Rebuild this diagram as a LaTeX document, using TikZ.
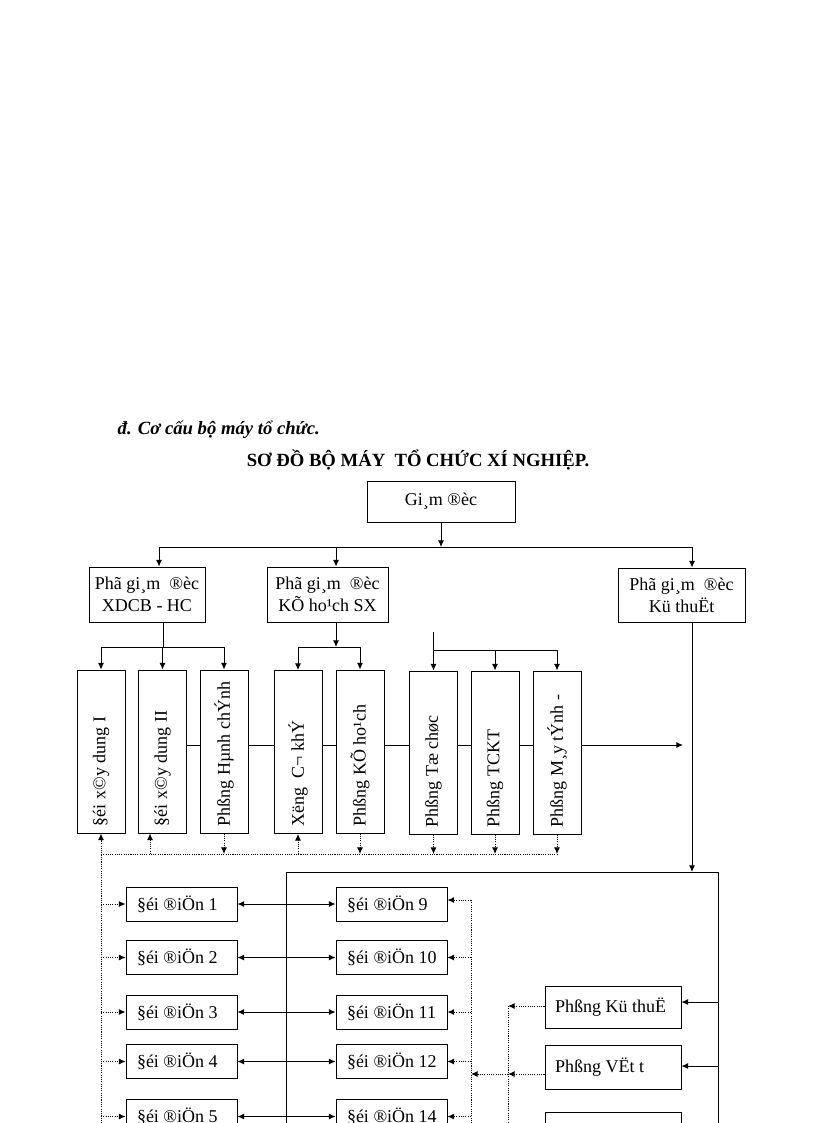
\documentclass[tikz,border=0pt]{standalone}
\usepackage{fontspec}
\setmainfont{Liberation Serif}
\usetikzlibrary{arrows.meta}
\begin{document}
\begin{tikzpicture}[x=0.75pt,y=-0.75pt,
  every node/.style={font=\fontsize{13.5}{16.5}\selectfont},
  box/.style={draw, fill=white, line width=0.7pt, inner sep=0pt},
  tall/.style={box, minimum width=36pt, minimum height=122.25pt},
  doi/.style={box, minimum width=83.25pt, minimum height=25.5pt},
  phong/.style={box, minimum width=102pt, minimum height=31.5pt},
  ln/.style={line width=0.7pt},
  arr/.style={ln, -{Latex[length=5pt,width=4.5pt]}},
  darr/.style={ln, {Latex[length=5pt,width=4.5pt]}-{Latex[length=5pt,width=4.5pt]}},
  dot/.style={line width=0.7pt, dash pattern=on 0.8pt off 0.9pt}
]
\newcommand{\vt}[1]{\rotatebox{90}{\makebox[111.75pt][l]{#1}}}
\newcommand{\lt}[1]{\makebox[66.75pt][l]{#1}}
\newcommand{\pt}[1]{\makebox[87pt][l]{#1}}
\useasboundingbox (0,0) rectangle (816,1123);

% headings
\node[anchor=base west, font=\fontsize{14}{17}\selectfont\bfseries\itshape] (h1) at (113,434) {đ. Cơ cấu bộ máy tổ chức.};
\node[anchor=base, font=\fontsize{14}{17}\selectfont\bfseries] (h2) at (418,466) {SƠ ĐỒ BỘ MÁY\ \ TỔ CHỨC XÍ NGHIỆP.};

% top boxes
\node[box, minimum width=111pt, minimum height=30.75pt] (gd) at (441,501.5) {Gi¸m ®èc};
\node[box, minimum width=87pt, minimum height=41.25pt, align=center] (pxd) at (147,594.5) {Phã gi¸m\ \ ®èc\\XDCB - HC};
\node[box, minimum width=90.75pt, minimum height=41.25pt, align=center] (pkh) at (327.5,594.5) {Phã gi¸m\ \ ®èc\\KÕ ho¹ch SX};
\node[box, minimum width=95.25pt, minimum height=40.5pt, align=center] (pkt) at (681.5,595) {Phã gi¸m\ \ ®èc\\Kü thuËt};

% tall boxes
\node[tall] (b1) at (101,751.5) {\vt{§éi x©y dung I}};
\node[tall] (b2) at (162.5,751.5) {\vt{§éi x©y dung II}};
\node[tall] (b3) at (224,751.5) {\vt{Phßng Hµnh chÝnh}};
\node[tall] (b4) at (298,752) {\vt{X­ëng\ \ C¬ khÝ}};
\node[tall] (b5) at (360,751.5) {\vt{Phßng KÕ ho¹ch}};
\node[tall] (b6) at (433.5,752.5) {\vt{Phßng Tæ chøc}};
\node[tall] (b7) at (495,752.5) {\vt{Phßng TCKT}};
\node[tall] (b8) at (557,752.5) {\vt{Phßng M¸y tÝnh -}};

% doi dien boxes
\node[doi] (e1) at (181.5,904) {\lt{§éi ®iÖn 1}};
\node[doi] (e2) at (181.5,957.5) {\lt{§éi ®iÖn 2}};
\node[doi] (e3) at (181.5,1012) {\lt{§éi ®iÖn 3}};
\node[doi] (e4) at (181.5,1061.5) {\lt{§éi ®iÖn 4}};
\node[doi] (e5) at (181.5,1116.5) {\lt{§éi ®iÖn 5}};
\node[doi] (e9) at (391.5,904) {\lt{§éi ®iÖn 9}};
\node[doi] (e10) at (391.5,957.5) {};
\begin{scope}
  \clip (336,940) rectangle (438,975);
  \node[inner sep=0pt] (e10t) at (e10) {\lt{§éi ®iÖn 10}};
\end{scope}
\node[doi] (e11) at (391.5,1012) {\lt{§éi ®iÖn 11}};
\node[doi] (e12) at (391.5,1061.5) {\lt{§éi ®iÖn 12}};
\node[doi] (e14) at (391.5,1116.5) {\lt{§éi ®iÖn 14}};

% phong boxes bottom right
\node[phong] (pkth) at (613,1007) {\pt{Phßng Kü thuË}};
\node[phong, minimum height=33pt] (pvt) at (613,1067) {\pt{Phßng VËt t­}};
\node[phong, minimum height=33pt] (p3) at (613,1134) {};

% coordinates
\coordinate (hl) at (0,547);
\coordinate (h1L) at (159,547);
\coordinate (h1M) at (336,547);
\coordinate (h1R) at (692,547);
\coordinate (j1) at (163,647);
\coordinate (j2) at (336,647);
\coordinate (j3top) at (433,632);
\coordinate (j3) at (433,650);
\coordinate (yl) at (0,745);
\coordinate (e0) at (683,745);
\coordinate (bigtop) at (0,872);
\coordinate (R1) at (286,1130);
\coordinate (R2) at (286,872);
\coordinate (R3) at (718,872);
\coordinate (R4) at (718,1130);
\coordinate (d0) at (101,854);
\coordinate (u2) at (150,854);
\coordinate (dl) at (101,1130);
\coordinate (dr) at (471,900);
\coordinate (drb) at (471,1130);
\coordinate (a1) at (718,1002);
\coordinate (a2) at (718,1066);
\coordinate (dv) at (508,1006);
\coordinate (dvb) at (508,1130);
\coordinate (dv2) at (508,1074);

% top connectors
\draw[arr] (gd.south) -- (gd.south |- hl);
\draw[ln] (h1L) -- (h1R);
\draw[arr] (h1L) -- (h1L |- pxd.north);
\draw[arr] (h1M) -- (h1M |- pkh.north);
\draw[arr] (h1R) -- (h1R |- pkt.north);

% XDCB branch
\draw[ln] (pxd.south -| j1) -- (j1);
\draw[ln] (b1.north |- j1) -- (b3.north |- j1);
\draw[arr] (b1.north |- j1) -- (b1.north);
\draw[arr] (b2.north |- j1) -- (b2.north);
\draw[arr] (b3.north |- j1) -- (b3.north);

% KH branch
\draw[arr] (pkh.south -| j2) -- (j2);
\draw[ln] (b4.north |- j2) -- (b5.north |- j2);
\draw[arr] (b4.north |- j2) -- (b4.north);
\draw[arr] (b5.north |- j2) -- (b5.north);

% third branch
\draw[ln] (j3top) -- (j3);
\draw[ln] (b6.north |- j3) -- (b8.north |- j3);
\draw[arr] (b6.north |- j3) -- (b6.north);
\draw[arr] (b7.north |- j3) -- (b7.north);
\draw[arr] (b8.north |- j3) -- (b8.north);

% horizontal line through tall boxes
\draw[ln] (b2.east |- yl) -- (b3.west |- yl);
\draw[ln] (b3.east |- yl) -- (b4.west |- yl);
\draw[ln] (b4.east |- yl) -- (b5.west |- yl);
\draw[ln] (b5.east |- yl) -- (b6.west |- yl);
\draw[ln] (b6.east |- yl) -- (b7.west |- yl);
\draw[ln] (b7.east |- yl) -- (b8.west |- yl);
\draw[arr] (b8.east |- yl) -- (e0);

% KT vertical and big frame
\draw[arr] (pkt.south -| h1R) -- (h1R |- bigtop);
\draw[ln] (R1) -- (R2) -- (R3) -- (R4);

% dotted under tall boxes
\draw[dot] (d0) -- (b8.south |- d0);
\draw[dot,arr] (dl) -- (b1.south);
\draw[dot,arr] (u2) -- (u2 |- b2.south);
\draw[dot,arr] (b3.south) -- (b3.south |- d0);
\draw[dot,arr] (b4.south |- d0) -- (b4.south);
\draw[dot,arr] (b5.south) -- (b5.south |- d0);
\draw[dot,arr] (b6.south) -- (b6.south |- d0);
\draw[dot,arr] (b7.south) -- (b7.south |- d0);
\draw[dot,arr] (b8.south) -- (b8.south |- d0);

% left dotted arrows
\foreach \n in {e1,e2,e3,e4,e5}{
  \draw[dot,arr] (dl |- \n.west) -- (\n.west);
}
% double arrows
\draw[darr] (e1.east) -- (e9.west);
\draw[darr] (e2.east) -- (e10.west);
\draw[darr] (e3.east) -- (e11.west);
\draw[darr] (e4.east) -- (e12.west);
\draw[darr] (e5.east) -- (e14.west);

% right dotted
\draw[dot] (dr) -- (drb);
\draw[dot,arr] (dr) -- (e9.east |- dr);
\foreach \n in {e10,e11,e12,e14}{
  \draw[dot,arr] (drb |- \n.east) -- (\n.east);
}

% bottom right
\draw[arr] (a1) -- (pkth.east |- a1);
\draw[arr] (a2) -- (pvt.east |- a2);
\draw[dot] (dv) -- (dvb);
\draw[dot,arr] (pkth.west |- dv) -- (dv);
\draw[dot,arr] (pvt.west |- dv2) -- (dv2);
\draw[dot,arr] (dv2) -- (drb |- dv2);
\end{tikzpicture}
\end{document}
